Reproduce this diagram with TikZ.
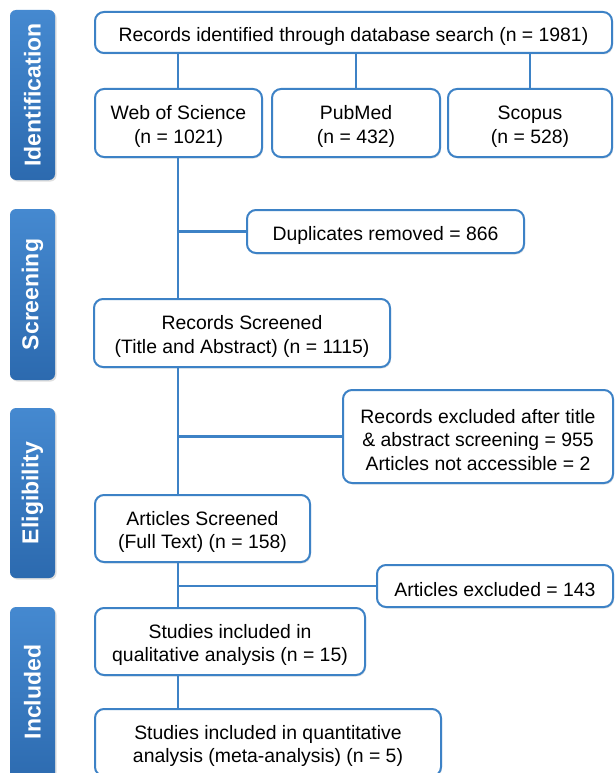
\documentclass[tikz,border=0pt]{standalone}
\usepackage{fontspec}
\setmainfont{Liberation Sans}
\usetikzlibrary{shadows}
\definecolor{bord}{HTML}{3D82C6}
\definecolor{bartop}{HTML}{4589D0}
\definecolor{barbot}{HTML}{2C6AAF}
\newcommand\flowbox[5]{%
  \node[box, minimum width=#2, minimum height=#3] (#1) at #4 {};
  \node[boxtext] (#1t) at ([yshift=-3.5pt]#1.center) {#5};}
\begin{document}
\begin{tikzpicture}[x=1pt,y=-1pt,
  box/.style={draw=bord, line width=2pt, rounded corners=9pt, fill=white, inner sep=0pt,
    drop shadow={shadow xshift=1pt, shadow yshift=-1.5pt, opacity=0.2}},
  boxtext/.style={align=center, font=\fontsize{19.4}{23.5}\selectfont, inner sep=0pt},
  phase/.style={rounded corners=6pt, top color=bartop, bottom color=barbot, draw=none,
    inner sep=0pt,
    drop shadow={shadow xshift=1.5pt, shadow yshift=-1.5pt, opacity=0.25}},
  phasetext/.style={rotate=90, text=white, font=\fontsize{23}{27}\selectfont\bfseries},
  conn/.style={draw=bord, line width=2.2pt}]
\useasboundingbox (0,0) rectangle (615,773);
\fill[white] (0,0) rectangle (615,773);
% phase bars
\node[phase, minimum width=45pt, minimum height=170pt] (pid) at (32.5,95) {};
\node[phasetext] (tid) at (pid.center) {Identification};
\node[phase, minimum width=45pt, minimum height=171pt] (psc) at (32.5,294.5) {};
\node[phasetext] (tsc) at (psc.center) {Screening};
\node[phase, minimum width=45pt, minimum height=170pt] (pel) at (32.5,493) {};
\node[phasetext] (tel) at (pel.center) {Eligibility};
\node[phase, minimum width=45pt, minimum height=180pt] (pin) at (32.5,697) {};
\node[phasetext] (tin) at (32.5,692) {Included};
% boxes
\flowbox{top}{517pt}{41pt}{(353.5,32.5)}{Records identified through database search (n = 1981)}
\flowbox{wos}{167pt}{68pt}{(178.5,123)}{Web of Science\\(n = 1021)}
\flowbox{pub}{168pt}{68pt}{(356,123)}{PubMed\\(n = 432)}
\flowbox{sco}{164pt}{68pt}{(530,123)}{Scopus\\(n = 528)}
\flowbox{dup}{277pt}{43pt}{(385.5,231.5)}{Duplicates removed = 866}
\flowbox{rs}{296pt}{68pt}{(242,333)}{Records Screened\\(Title and Abstract) (n = 1115)}
\flowbox{re}{270pt}{93pt}{(478,436.5)}{Records excluded after title\\\& abstract screening = 955\\Articles not accessible = 2}
\flowbox{as}{215pt}{67pt}{(202.5,528.5)}{Articles Screened\\(Full Text) (n = 158)}
\flowbox{ae}{236pt}{42pt}{(495,586)}{Articles excluded = 143}
\flowbox{sq}{270pt}{67pt}{(230,641.5)}{Studies included in\\qualitative analysis (n = 15)}
\flowbox{sqn}{346pt}{67pt}{(268,742.5)}{Studies included in quantitative\\analysis (meta-analysis) (n = 5)}
\coordinate (sp) at (178,0);
% connectors
\draw[conn] (top.south -| sp) -- (wos.north -| sp);
\draw[conn] (top.south -| pub.north) -- (pub.north);
\draw[conn] (top.south -| sco.north) -- (sco.north);
\draw[conn] (wos.south -| sp) -- (rs.north -| sp);
\draw[conn] (dup.west -| sp) -- (dup.west);
\draw[conn] (rs.south -| sp) -- (as.north -| sp);
\draw[conn] (re.west -| sp) -- (re.west);
\draw[conn] (as.south -| sp) -- (sq.north -| sp);
\draw[conn] (ae.west -| sp) -- (ae.west);
\draw[conn] (sq.south -| sp) -- (sqn.north -| sp);
\end{tikzpicture}
\end{document}
